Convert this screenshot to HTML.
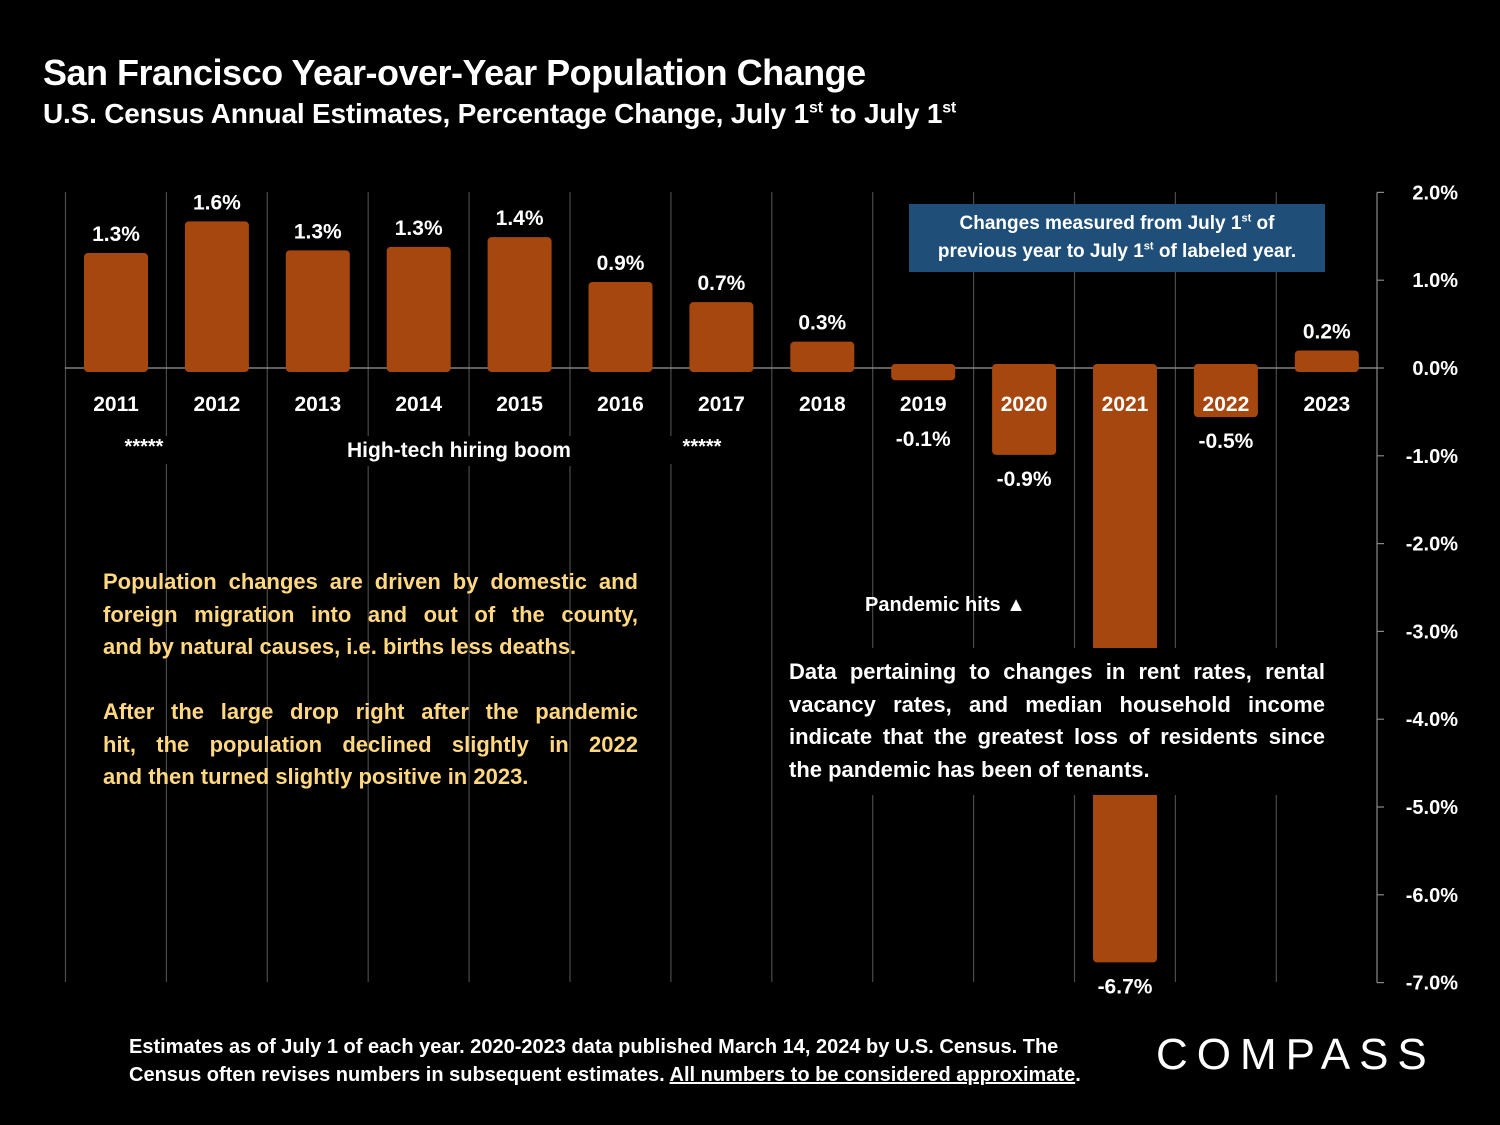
<!DOCTYPE html>
<html><head><meta charset="utf-8">
<style>
body{margin:0;background:#000;}
#wrap{position:relative;width:1500px;height:1125px;background:#000;overflow:hidden;font-family:"Liberation Sans",sans-serif;color:#fff;}
.t{position:absolute;white-space:nowrap;}
.j{display:block;text-align:justify;text-align-last:justify;}
.l{display:block;text-align:left;}
sup{line-height:0;}
svg text{font-family:"Liberation Sans",sans-serif;font-weight:bold;}
</style></head><body>
<div id="wrap">
<div class="t" style="left:43px;top:52px;font-size:36px;font-weight:bold;letter-spacing:-0.5px;">San Francisco Year-over-Year Population Change</div>
<div class="t" style="left:43px;top:98px;font-size:28px;font-weight:bold;letter-spacing:-0.2px;">U.S. Census Annual Estimates, Percentage Change, July 1<sup style="font-size:16px">st</sup> to July 1<sup style="font-size:16px">st</sup></div>

<svg id="chart" width="1500" height="1125" style="position:absolute;left:0;top:0"></svg>

<div class="t" style="left:909px;top:204px;width:416px;height:68px;background:#1F4E79;font-size:19px;font-weight:bold;text-align:center;line-height:28px;padding-top:6px;box-sizing:border-box;">Changes measured from July 1<sup style="font-size:11px">st</sup> of<br>previous year to July 1<sup style="font-size:11px">st</sup> of labeled year.</div>

<div class="t" style="left:334px;top:436px;width:250px;height:30px;background:#000;text-align:center;font-size:21px;font-weight:bold;line-height:30px;">High-tech hiring boom</div>
<div class="t" style="left:106px;top:436px;width:76px;height:28px;background:#000;font-size:20px;font-weight:bold;text-align:center;">*****</div>
<div class="t" style="left:664px;top:436px;width:76px;height:28px;background:#000;font-size:20px;font-weight:bold;text-align:center;">*****</div>

<div class="t" style="left:103px;top:566px;width:535px;font-size:22px;font-weight:bold;line-height:32.5px;color:#FFD880;">
<span class="j">Population changes are driven by domestic and</span>
<span class="j">foreign migration into and out of the county,</span>
<span class="l">and by natural causes, i.e. births less deaths.</span>
<span class="l">&nbsp;</span>
<span class="j">After the large drop right after the pandemic</span>
<span class="j">hit, the population declined slightly in 2022</span>
<span class="l">and then turned slightly positive in 2023.</span>
</div>

<div class="t" style="left:865px;top:594px;font-size:20px;font-weight:bold;">Pandemic hits ▲</div>

<div class="t" style="left:780px;top:648px;width:555px;height:147px;background:#000;box-sizing:border-box;padding:8px 10px 0 9px;font-size:22px;font-weight:bold;line-height:32.5px;">
<span class="j">Data pertaining to changes in rent rates, rental</span>
<span class="j">vacancy rates, and median household income</span>
<span class="j">indicate that the greatest loss of residents since</span>
<span class="l">the pandemic has been of tenants.</span>
</div>

<div class="t" style="left:129px;top:1033px;font-size:20px;font-weight:bold;line-height:28px;">Estimates as of July 1 of each year. 2020-2023 data published March 14, 2024 by U.S. Census. The<br>Census often revises numbers in subsequent estimates. <u>All numbers to be considered approximate</u>.</div>
<div class="t" style="left:1156px;top:1030px;font-size:44px;letter-spacing:9px;">COMPASS</div>
</div>
<script>
const years=["2011","2012","2013","2014","2015","2016","2017","2018","2019","2020","2021","2022","2023"];
const values=[1.31,1.67,1.34,1.38,1.49,0.98,0.75,0.30,-0.14,-0.99,-6.77,-0.56,0.20];
const valueLabels=["1.3%","1.6%","1.3%","1.3%","1.4%","0.9%","0.7%","0.3%","-0.1%","-0.9%","-6.7%","-0.5%","0.2%"];
const ticks=[2,1,0,-1,-2,-3,-4,-5,-6,-7];
const tickLabels=["2.0%","1.0%","0.0%","-1.0%","-2.0%","-3.0%","-4.0%","-5.0%","-6.0%","-7.0%"];

const svg=document.getElementById('chart');
const NS='http://www.w3.org/2000/svg';
const y=v=>368-v*87.8;
const xc=i=>116+i*100.9;
function mk(t,a){const e=document.createElementNS(NS,t);for(const k in a)e.setAttribute(k,a[k]);svg.appendChild(e);return e;}
for(let i=0;i<=12;i++){
  const l=mk('line',{x1:xc(i)-50.5,x2:xc(i)-50.5,y1:192,y2:982,stroke:'#4a4a4a','stroke-width':1.2});
  
  
}
const ax=mk('line',{x1:1377,x2:1377,y1:y(2),y2:y(-7),stroke:'#888','stroke-width':1.2});


ticks.forEach((t,i)=>{
  const tk=mk('line',{x1:1377,x2:1384,y1:y(t),y2:y(t),stroke:'#888','stroke-width':1.2});
  
  
  const tx=mk('text',{x:1458,y:y(t)+7,'text-anchor':'end',fill:'#fff','font-size':20});
  tx.textContent=tickLabels[i];
  
  
});
const z=mk('line',{x1:65,x2:1377,y1:y(0),y2:y(0),stroke:'#999','stroke-width':1.2});


values.forEach((v,i)=>{
  const top=v>=0?y(v):y(0)-4, bot=v>=0?y(0)+4:y(v);
  const b=mk('rect',{x:xc(i)-32,y:top,width:64,height:bot-top,rx:4,fill:'#A5470F'});
  
  
  const yl=mk('text',{x:xc(i),y:411,'text-anchor':'middle',fill:'#fff','font-size':21});
  yl.textContent=years[i];
  
  
  const vl=mk('text',{x:xc(i),y:v>=0?y(v)-12:Math.max(y(v)+31,446),'text-anchor':'middle',fill:'#fff','font-size':21});
  vl.textContent=valueLabels[i];
  
  
});
</script>
</body></html>
